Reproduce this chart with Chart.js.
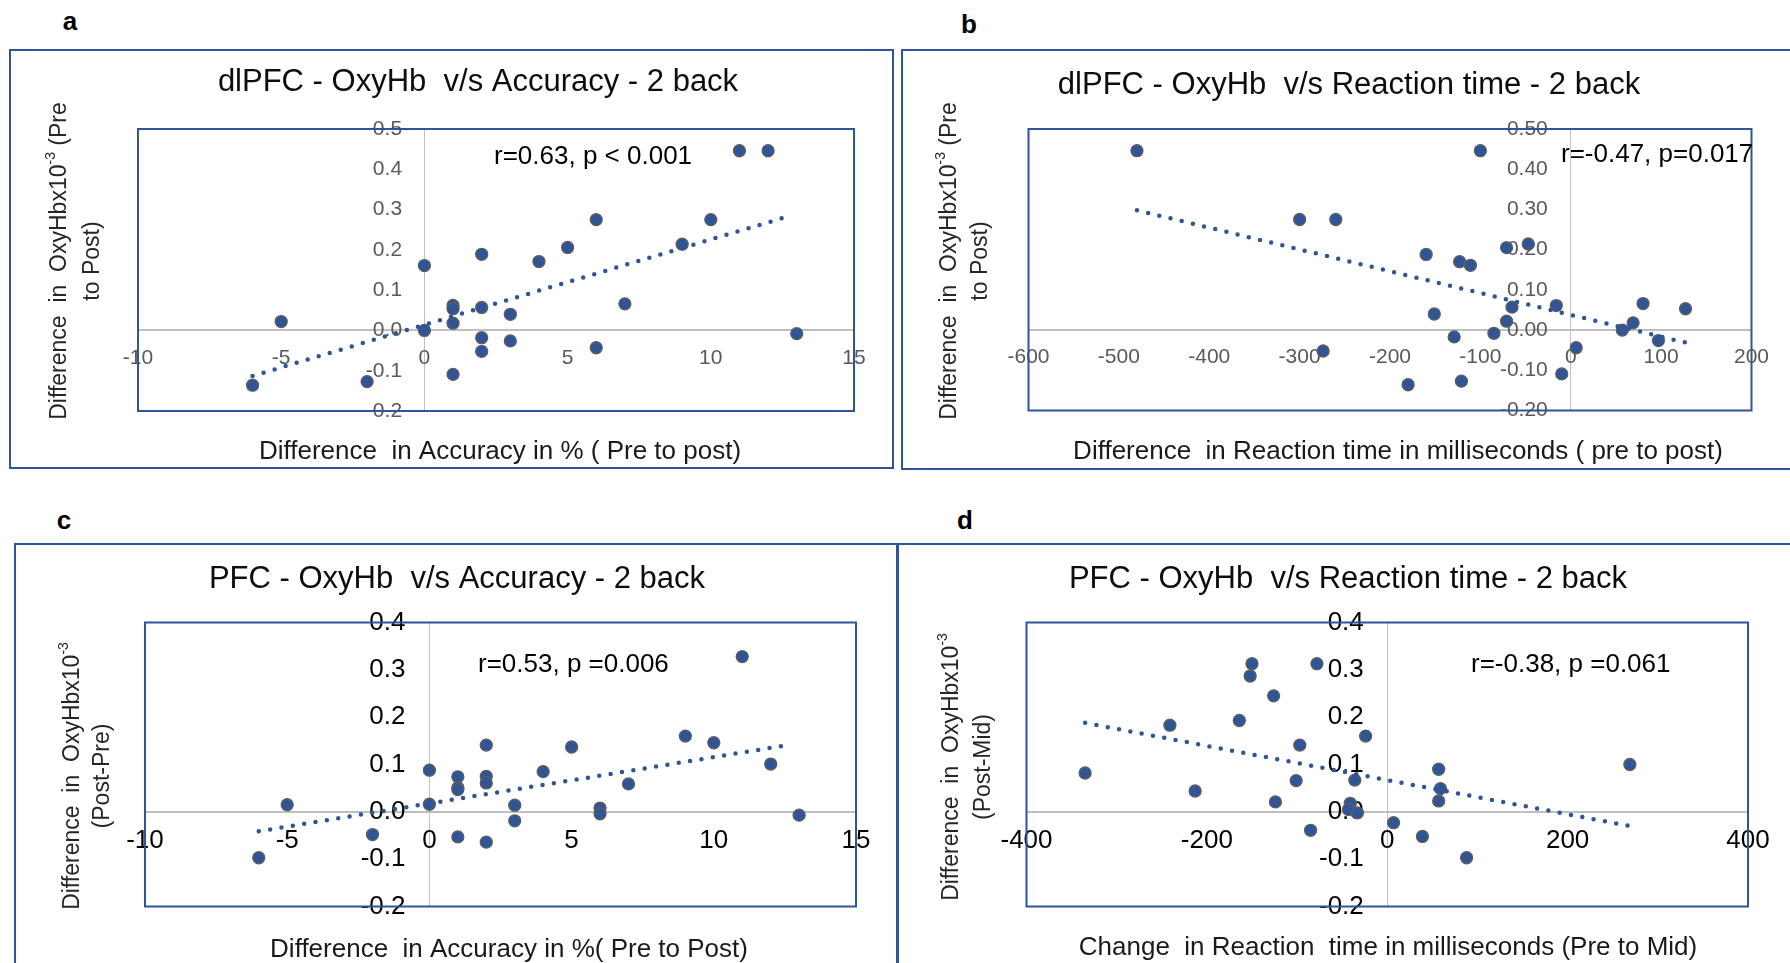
<!DOCTYPE html>
<html>
<head>
<meta charset="utf-8">
<script src="https://cdn.jsdelivr.net/npm/chart.js@4.4.0/dist/chart.umd.min.js"></script>
<style>
  html, body { margin: 0; padding: 0; background: #fff; overflow: hidden; }
  body { width: 1790px; height: 963px; position: relative; }
  canvas { position: absolute; }
  .tag { position: absolute; width: 40px; text-align: center; color: #000;
         font: bold 26px 'Liberation Sans', Arial, sans-serif; line-height: 26px; }
</style>
</head>
<body>
<div class="tag" style="left:50px;top:8px">a</div>
<div class="tag" style="left:949px;top:11px">b</div>
<div class="tag" style="left:44px;top:507px">c</div>
<div class="tag" style="left:945px;top:507px">d</div>

<canvas id="chartA"></canvas>
<canvas id="chartB"></canvas>
<canvas id="chartC"></canvas>
<canvas id="chartD"></canvas>

<script>
// ---- data ----
// a: dlPFC OxyHb vs accuracy change
const accuracyA = [11, 12, 6, 10, 5, 9, 2, 4, 0, 7, 1, 1, 2, 3, -5, 1, 0, 13, 2, 3, 2, 6, 1, -2, -6];
const oxyA = [0.446, 0.446, 0.275, 0.275, 0.206, 0.214, 0.189, 0.171, 0.161, 0.066, 0.062, 0.054, 0.057,
              0.040, 0.022, 0.018, 0.0, -0.008, -0.018, -0.026, -0.052, -0.043, -0.109, -0.127, -0.136];
const trendA = [{ x: -6, y: -0.113 }, { x: 12.7, y: 0.283 }];

// b: dlPFC OxyHb vs reaction time change
const rtB = [-480, -100, -300, -260, -71, -47, -160, -123, -111, 80, -16, -65, 127, -151, -71, 69, 57,
             -85, -129, 97, 6, -274, -10, -121, -180];
const oxyB = [0.446, 0.446, 0.275, 0.275, 0.205, 0.214, 0.188, 0.170, 0.161, 0.066, 0.061, 0.057, 0.053,
              0.040, 0.022, 0.018, 0.0, -0.008, -0.017, -0.026, -0.044, -0.052, -0.109, -0.127, -0.136];
const trendB = [{ x: -480, y: 0.298 }, { x: 127, y: -0.031 }];

// c: PFC OxyHb vs accuracy change
const accuracyC = [11, 9, 10, 2, 5, 12, 0, 4, 1, 2, 2, 7, 1, 1, -5, 0, 3, 6, 6, 13, 3, -2, 1, 2, -6];
const oxyC = [0.328, 0.160, 0.146, 0.141, 0.137, 0.101, 0.088, 0.085, 0.074, 0.075, 0.061, 0.059, 0.051,
              0.047, 0.015, 0.016, 0.014, 0.008, -0.004, -0.007, -0.019, -0.048, -0.053, -0.064, -0.097];
const trendC = [{ x: -6, y: -0.041 }, { x: 12.7, y: 0.142 }];

// d: PFC OxyHb vs reaction time change (pre to mid)
const rtD = [-150, -78, -152, -126, -164, -241, -24, -97, 269, 57, -335, -101, -36, 59, -213, -124, 57,
             -41, -43, -33, 7, -85, 39, 88];
const oxyD = [0.313, 0.313, 0.287, 0.245, 0.193, 0.183, 0.160, 0.141, 0.100, 0.090, 0.082, 0.066, 0.067,
              0.049, 0.044, 0.021, 0.023, 0.018, 0.005, -0.002, -0.023, -0.039, -0.052, -0.097];
const trendD = [{ x: -335, y: 0.188 }, { x: 269, y: -0.030 }];

// tick labels
const xTicksAccuracy = [-10, -5, 0, 5, 10, 15];
const xTicksRtB = [-600, -500, -400, -300, -200, -100, 0, 100, 200];
const xTicksRtD = [-400, -200, 0, 200, 400];
const yTicksTop = [-0.2, -0.1, 0, 0.1, 0.2, 0.3, 0.4, 0.5];
const yTicksBottom = [-0.2, -0.1, 0, 0.1, 0.2, 0.3, 0.4];

// ---- styling ----
const FONT = "'Liberation Sans', Arial, sans-serif";
const BLUE = '#2F5597';
const DOT_EDGE = '#5E5E5E';
const ZERO_LINE = '#BFBFBF';

const panels = [
  {
    id: 'chartA', frame: { x: 9, y: 49, w: 885, h: 420 }, plot: { l: 138, t: 129, r: 854, b: 411 },
    xs: accuracyA, ys: oxyA, trend: trendA, xTicks: xTicksAccuracy, yTicks: yTicksTop, yDecimals: 1,
    yAxisAt: -0.78, xPad: 15, tickSize: 21, tickColor: '#595959',
    title: { text: 'dlPFC - OxyHb  v/s Accuracy - 2 back', x: 478, y: 91 },
    note: { text: 'r=0.63, p < 0.001', x: 494, y: 164 },
    xTitle: { text: 'Difference  in Accuracy in % ( Pre to post)', x: 500, y: 459 },
    yTitle: { parts: ['Difference  in  OxyHbx10', '-3', ' (Pre'], second: 'to Post)', x1: 60, x2: 93, y: 261 }
  },
  {
    id: 'chartB', frame: { x: 901, y: 49, w: 891, h: 421 }, plot: { l: 1028.5, t: 129, r: 1751.5, b: 410.5 },
    xs: rtB, ys: oxyB, trend: trendB, xTicks: xTicksRtB, yTicks: yTicksTop, yDecimals: 2,
    yAxisAt: -25.4, xPad: 15, tickSize: 21, tickColor: '#595959',
    title: { text: 'dlPFC - OxyHb  v/s Reaction time - 2 back', x: 1349, y: 94 },
    note: { text: 'r=-0.47, p=0.017', x: 1561, y: 162 },
    xTitle: { text: 'Difference  in Reaction time in milliseconds ( pre to post)', x: 1398, y: 459 },
    yTitle: { parts: ['Difference  in  OxyHbx10', '-3', ' (Pre'], second: 'to Post)', x1: 950, x2: 981, y: 261 }
  },
  {
    id: 'chartC', frame: { x: 14, y: 543, w: 884, h: 425 }, plot: { l: 145, t: 622.5, r: 856, b: 906.5 },
    xs: accuracyC, ys: oxyC, trend: trendC, xTicks: xTicksAccuracy, yTicks: yTicksBottom, yDecimals: 1,
    yAxisAt: -0.84, xPad: 13, tickSize: 26, tickColor: '#000',
    title: { text: 'PFC - OxyHb  v/s Accuracy - 2 back', x: 457, y: 588 },
    note: { text: 'r=0.53, p =0.006', x: 478, y: 672 },
    xTitle: { text: 'Difference  in Accuracy in %( Pre to Post)', x: 509, y: 957 },
    yTitle: { parts: ['Difference  in  OxyHbx10', '-3', ''], second: '(Post-Pre)', x1: 73, x2: 103, y: 776 }
  },
  {
    id: 'chartD', frame: { x: 897, y: 543, w: 895, h: 425 }, plot: { l: 1026.5, t: 622.5, r: 1748, b: 906.5 },
    xs: rtD, ys: oxyD, trend: trendD, xTicks: xTicksRtD, yTicks: yTicksBottom, yDecimals: 1,
    yAxisAt: -26, xPad: 13, tickSize: 26, tickColor: '#000',
    title: { text: 'PFC - OxyHb  v/s Reaction time - 2 back', x: 1348, y: 588 },
    note: { text: 'r=-0.38, p =0.061', x: 1471, y: 672 },
    xTitle: { text: 'Change  in Reaction  time in milliseconds (Pre to Mid)', x: 1388, y: 955 },
    yTitle: { parts: ['Difference  in  OxyHbx10', '-3', ''], second: '(Post-Mid)', x1: 952, x2: 984, y: 767 }
  }
];

// draws the frames, titles and the r/p note of one panel
function panelText(p) {
  const ox = p.frame.x, oy = p.frame.y;
  return {
    id: 'panelText',
    beforeDraw(chart) {
      const ctx = chart.ctx;
      ctx.save();
      ctx.strokeStyle = BLUE;
      ctx.lineWidth = 2;
      ctx.strokeRect(1, 1, chart.width - 2, chart.height - 2);
      ctx.restore();
    },
    beforeDatasetsDraw(chart) {
      const a = chart.chartArea, ctx = chart.ctx;
      ctx.save();
      ctx.strokeStyle = BLUE;
      ctx.lineWidth = 2;
      ctx.strokeRect(a.left, a.top, a.right - a.left, a.bottom - a.top);
      ctx.restore();
    },
    afterDraw(chart) {
      const ctx = chart.ctx;
      ctx.save();
      ctx.textBaseline = 'alphabetic';

      ctx.fillStyle = '#0d0d0d';
      ctx.textAlign = 'center';
      ctx.font = '31px ' + FONT;
      ctx.fillText(p.title.text, p.title.x - ox, p.title.y - oy);

      ctx.font = '26px ' + FONT;
      ctx.fillStyle = '#1a1a1a';
      ctx.fillText(p.xTitle.text, p.xTitle.x - ox, p.xTitle.y - oy);

      ctx.textAlign = 'left';
      ctx.fillStyle = '#000';
      ctx.fillText(p.note.text, p.note.x - ox, p.note.y - oy);

      // rotated y title, first line carries the superscript
      const yt = p.yTitle;
      const main = '23px ' + FONT, sup = '14px ' + FONT;
      ctx.fillStyle = '#262626';
      ctx.textBaseline = 'middle';
      ctx.font = main;
      const w0 = ctx.measureText(yt.parts[0]).width;
      const w2 = ctx.measureText(yt.parts[2]).width;
      ctx.font = sup;
      const w1 = ctx.measureText(yt.parts[1]).width;
      const total = w0 + w1 + w2;

      ctx.save();
      ctx.translate(yt.x1 - ox, yt.y - oy);
      ctx.rotate(-Math.PI / 2);
      ctx.textAlign = 'left';
      ctx.font = main;
      ctx.fillText(yt.parts[0], -total / 2, 0);
      ctx.font = sup;
      ctx.fillText(yt.parts[1], -total / 2 + w0, -9);
      ctx.font = main;
      ctx.fillText(yt.parts[2], -total / 2 + w0 + w1, 0);
      ctx.restore();

      ctx.save();
      ctx.translate(yt.x2 - ox, yt.y - oy);
      ctx.rotate(-Math.PI / 2);
      ctx.textAlign = 'center';
      ctx.font = main;
      ctx.fillText(yt.second, 0, 0);
      ctx.restore();

      ctx.restore();
    }
  };
}

function zeroOnly(color) {
  return ctx => (ctx.tick && Math.abs(ctx.tick.value) < 1e-9) ? color : 'rgba(0,0,0,0)';
}

panels.forEach(p => {
  const canvas = document.getElementById(p.id);
  canvas.width = p.frame.w;
  canvas.height = p.frame.h;
  canvas.style.left = p.frame.x + 'px';
  canvas.style.top = p.frame.y + 'px';

  const points = p.xs.map((x, i) => ({ x: x, y: p.ys[i] }));
  const tickFont = { family: FONT, size: p.tickSize };

  new Chart(canvas, {
    type: 'scatter',
    data: {
      datasets: [
        {
          data: points,
          order: 1,
          pointRadius: 6,
          pointBorderWidth: 1.3,
          pointBackgroundColor: BLUE,
          pointBorderColor: DOT_EDGE
        },
        {
          data: p.trend,
          order: 0,
          showLine: true,
          pointRadius: 0,
          borderColor: BLUE,
          borderWidth: 4.5,
          borderDash: [0, 11.5],
          borderCapStyle: 'round',
          fill: false
        }
      ]
    },
    options: {
      responsive: false,
      animation: false,
      events: [],
      layout: {
        padding: {
          left: p.plot.l - p.frame.x,
          top: p.plot.t - p.frame.y,
          right: p.frame.x + p.frame.w - p.plot.r,
          bottom: p.frame.y + p.frame.h - p.plot.b
        }
      },
      plugins: { legend: { display: false }, tooltip: { enabled: false } },
      scales: {
        x: {
          type: 'linear',
          position: { y: 0 },
          min: p.xTicks[0],
          max: p.xTicks[p.xTicks.length - 1],
          afterBuildTicks: s => { s.ticks = p.xTicks.map(v => ({ value: v })); },
          afterFit: s => { s.height = 0; },
          border: { display: false },
          grid: { drawTicks: false, color: zeroOnly(ZERO_LINE), lineWidth: 1 },
          ticks: {
            padding: p.xPad, font: tickFont, color: p.tickColor,
            maxRotation: 0, autoSkip: false,
            callback: v => String(v)
          }
        },
        y: {
          type: 'linear',
          position: { x: p.yAxisAt },
          min: p.yTicks[0],
          max: p.yTicks[p.yTicks.length - 1],
          afterBuildTicks: s => { s.ticks = p.yTicks.map(v => ({ value: v })); },
          afterFit: s => { s.width = 0; },
          border: { display: false },
          grid: { drawTicks: false, color: zeroOnly(ZERO_LINE), lineWidth: 2 },
          ticks: {
            font: tickFont, color: p.tickColor, autoSkip: false,
            callback: v => Number(v).toFixed(p.yDecimals)
          }
        }
      }
    },
    plugins: [panelText(p)]
  });
});
</script>
</body>
</html>
